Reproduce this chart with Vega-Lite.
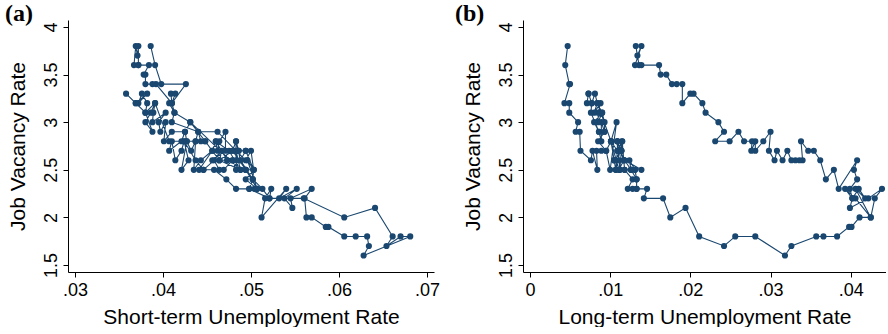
{
  "$schema": "https://vega.github.io/schema/vega-lite/v6.json",
  "padding": {"left": 5, "top": 2, "right": 0, "bottom": 0},
  "background": "white",
  "datasets": {
    "d": [
      {"t":1,"st":0.0386,"lt":0.0047,"v":3.8},{"t":2,"st":0.0391,"lt":0.0044,"v":3.6},{"t":3,"st":0.0398,"lt":0.0049,"v":3.4},{"t":4,"st":0.0426,"lt":0.0050,"v":3.4},
      {"t":5,"st":0.0410,"lt":0.0043,"v":3.2},{"t":6,"st":0.0407,"lt":0.0049,"v":3.2},{"t":7,"st":0.0413,"lt":0.0049,"v":3.1},{"t":8,"st":0.0410,"lt":0.0060,"v":3.0},
      {"t":9,"st":0.0440,"lt":0.0057,"v":2.9},{"t":10,"st":0.0462,"lt":0.0062,"v":2.9},{"t":11,"st":0.0483,"lt":0.0063,"v":2.7},{"t":12,"st":0.0494,"lt":0.0076,"v":2.6},
      {"t":13,"st":0.0500,"lt":0.0078,"v":2.7},{"t":14,"st":0.0503,"lt":0.0084,"v":2.5},{"t":15,"st":0.0494,"lt":0.0083,"v":2.7},{"t":16,"st":0.0486,"lt":0.0089,"v":2.7},
      {"t":17,"st":0.0483,"lt":0.0095,"v":2.7},{"t":18,"st":0.0488,"lt":0.0100,"v":2.5},{"t":19,"st":0.0431,"lt":0.0108,"v":3.0},{"t":20,"st":0.0448,"lt":0.0101,"v":2.8},
      {"t":21,"st":0.0464,"lt":0.0105,"v":2.6},{"t":22,"st":0.0488,"lt":0.0107,"v":2.5},{"t":23,"st":0.0475,"lt":0.0109,"v":2.7},{"t":24,"st":0.0460,"lt":0.0109,"v":2.8},
      {"t":25,"st":0.0473,"lt":0.0111,"v":2.6},{"t":26,"st":0.0494,"lt":0.0112,"v":2.5},{"t":27,"st":0.0479,"lt":0.0114,"v":2.7},{"t":28,"st":0.0483,"lt":0.0115,"v":2.8},
      {"t":29,"st":0.0488,"lt":0.0117,"v":2.6},{"t":30,"st":0.0494,"lt":0.0118,"v":2.5},{"t":31,"st":0.0502,"lt":0.0128,"v":2.4},{"t":32,"st":0.0498,"lt":0.0122,"v":2.3},
      {"t":33,"st":0.0504,"lt":0.0128,"v":2.3},{"t":34,"st":0.0507,"lt":0.0133,"v":2.3},{"t":35,"st":0.0494,"lt":0.0133,"v":2.4},{"t":36,"st":0.0503,"lt":0.0131,"v":2.5},
      {"t":37,"st":0.0483,"lt":0.0126,"v":2.5},{"t":38,"st":0.0479,"lt":0.0124,"v":2.6},{"t":39,"st":0.0469,"lt":0.0131,"v":2.5},{"t":40,"st":0.0464,"lt":0.0126,"v":2.5},
      {"t":41,"st":0.0458,"lt":0.0118,"v":2.6},{"t":42,"st":0.0446,"lt":0.0139,"v":2.5},{"t":43,"st":0.0441,"lt":0.0112,"v":2.5},{"t":44,"st":0.0456,"lt":0.0114,"v":2.7},
      {"t":45,"st":0.0443,"lt":0.0105,"v":2.6},{"t":46,"st":0.0435,"lt":0.0107,"v":2.5},{"t":47,"st":0.0437,"lt":0.0115,"v":2.8},{"t":48,"st":0.0432,"lt":0.0109,"v":2.7},
      {"t":49,"st":0.0427,"lt":0.0101,"v":2.8},{"t":50,"st":0.0421,"lt":0.0111,"v":2.5},{"t":51,"st":0.0429,"lt":0.0117,"v":2.6},{"t":52,"st":0.0424,"lt":0.0109,"v":2.8},
      {"t":53,"st":0.0421,"lt":0.0114,"v":2.7},{"t":54,"st":0.0414,"lt":0.0105,"v":2.6},{"t":55,"st":0.0410,"lt":0.0101,"v":2.8},{"t":56,"st":0.0407,"lt":0.0095,"v":2.7},
      {"t":57,"st":0.0421,"lt":0.0085,"v":2.8},{"t":58,"st":0.0425,"lt":0.0093,"v":2.9},{"t":59,"st":0.0410,"lt":0.0086,"v":2.9},{"t":60,"st":0.0401,"lt":0.0089,"v":2.8},
      {"t":61,"st":0.0403,"lt":0.0089,"v":3.0},{"t":62,"st":0.0397,"lt":0.0093,"v":2.9},{"t":63,"st":0.0395,"lt":0.0093,"v":3.0},{"t":64,"st":0.0403,"lt":0.0090,"v":3.1},
      {"t":65,"st":0.0388,"lt":0.0085,"v":3.0},{"t":66,"st":0.0389,"lt":0.0085,"v":3.1},{"t":67,"st":0.0391,"lt":0.0088,"v":3.2},{"t":68,"st":0.0380,"lt":0.0080,"v":3.1},
      {"t":69,"st":0.0382,"lt":0.0084,"v":3.2},{"t":70,"st":0.0376,"lt":0.0081,"v":3.3},{"t":71,"st":0.0372,"lt":0.0077,"v":3.2},{"t":72,"st":0.0382,"lt":0.0073,"v":3.3},
      {"t":73,"st":0.0369,"lt":0.0071,"v":3.2},{"t":74,"st":0.0358,"lt":0.0073,"v":3.3},{"t":75,"st":0.0369,"lt":0.0077,"v":3.2},{"t":76,"st":0.0380,"lt":0.0076,"v":3.1},
      {"t":77,"st":0.0388,"lt":0.0086,"v":2.9},{"t":78,"st":0.0380,"lt":0.0080,"v":3.0},{"t":79,"st":0.0386,"lt":0.0090,"v":3.1},{"t":80,"st":0.0391,"lt":0.0084,"v":3.2},
      {"t":81,"st":0.0407,"lt":0.0101,"v":2.8},{"t":82,"st":0.0424,"lt":0.0109,"v":2.8},{"t":83,"st":0.0437,"lt":0.0117,"v":2.6},{"t":84,"st":0.0446,"lt":0.0118,"v":2.5},
      {"t":85,"st":0.0458,"lt":0.0126,"v":2.5},{"t":86,"st":0.0472,"lt":0.0133,"v":2.4},{"t":87,"st":0.0483,"lt":0.0133,"v":2.3},{"t":88,"st":0.0498,"lt":0.0146,"v":2.3},
      {"t":89,"st":0.0521,"lt":0.0142,"v":2.2},{"t":90,"st":0.0560,"lt":0.0166,"v":2.2},{"t":91,"st":0.0606,"lt":0.0175,"v":2.0},{"t":92,"st":0.0641,"lt":0.0194,"v":2.1},
      {"t":93,"st":0.0661,"lt":0.0211,"v":1.8},{"t":94,"st":0.0654,"lt":0.0242,"v":1.7},{"t":95,"st":0.0670,"lt":0.0256,"v":1.8},{"t":96,"st":0.0681,"lt":0.0281,"v":1.8},
      {"t":97,"st":0.0628,"lt":0.0318,"v":1.6},{"t":98,"st":0.0634,"lt":0.0326,"v":1.7},{"t":99,"st":0.0632,"lt":0.0357,"v":1.8},{"t":100,"st":0.0619,"lt":0.0366,"v":1.8},
      {"t":101,"st":0.0606,"lt":0.0383,"v":1.8},{"t":102,"st":0.0588,"lt":0.0398,"v":1.9},{"t":103,"st":0.0585,"lt":0.0401,"v":1.9},{"t":104,"st":0.0569,"lt":0.0411,"v":2.0},
      {"t":105,"st":0.0563,"lt":0.0425,"v":2.0},{"t":106,"st":0.0561,"lt":0.0430,"v":2.2},{"t":107,"st":0.0569,"lt":0.0439,"v":2.3},{"t":108,"st":0.0545,"lt":0.0422,"v":2.2},
      {"t":109,"st":0.0547,"lt":0.0399,"v":2.1},{"t":110,"st":0.0538,"lt":0.0402,"v":2.2},{"t":111,"st":0.0552,"lt":0.0410,"v":2.3},{"t":112,"st":0.0532,"lt":0.0418,"v":2.2},
      {"t":113,"st":0.0540,"lt":0.0406,"v":2.3},{"t":114,"st":0.0512,"lt":0.0425,"v":2.0},{"t":115,"st":0.0516,"lt":0.0406,"v":2.2},{"t":116,"st":0.0523,"lt":0.0393,"v":2.3},
      {"t":117,"st":0.0521,"lt":0.0402,"v":2.2},{"t":118,"st":0.0513,"lt":0.0399,"v":2.3},{"t":119,"st":0.0502,"lt":0.0408,"v":2.4},{"t":120,"st":0.0503,"lt":0.0404,"v":2.5},
      {"t":121,"st":0.0496,"lt":0.0408,"v":2.6},{"t":122,"st":0.0507,"lt":0.0385,"v":2.3},{"t":123,"st":0.0494,"lt":0.0379,"v":2.5},{"t":124,"st":0.0502,"lt":0.0369,"v":2.4},
      {"t":125,"st":0.0488,"lt":0.0362,"v":2.6},{"t":126,"st":0.0494,"lt":0.0354,"v":2.7},{"t":127,"st":0.0486,"lt":0.0347,"v":2.7},{"t":128,"st":0.0483,"lt":0.0338,"v":2.8},
      {"t":129,"st":0.0483,"lt":0.0340,"v":2.6},{"t":130,"st":0.0479,"lt":0.0336,"v":2.6},{"t":131,"st":0.0473,"lt":0.0331,"v":2.6},{"t":132,"st":0.0464,"lt":0.0326,"v":2.6},
      {"t":133,"st":0.0479,"lt":0.0321,"v":2.7},{"t":134,"st":0.0464,"lt":0.0315,"v":2.6},{"t":135,"st":0.0467,"lt":0.0308,"v":2.7},{"t":136,"st":0.0456,"lt":0.0305,"v":2.6},
      {"t":137,"st":0.0471,"lt":0.0298,"v":2.7},{"t":138,"st":0.0471,"lt":0.0300,"v":2.9},{"t":139,"st":0.0464,"lt":0.0291,"v":2.8},{"t":140,"st":0.0462,"lt":0.0281,"v":2.7},
      {"t":141,"st":0.0460,"lt":0.0281,"v":2.8},{"t":142,"st":0.0456,"lt":0.0276,"v":2.7},{"t":143,"st":0.0448,"lt":0.0277,"v":2.8},{"t":144,"st":0.0443,"lt":0.0267,"v":2.8},
      {"t":145,"st":0.0440,"lt":0.0260,"v":2.9},{"t":146,"st":0.0437,"lt":0.0249,"v":2.8},{"t":147,"st":0.0427,"lt":0.0231,"v":2.8},{"t":148,"st":0.0425,"lt":0.0242,"v":2.9},
      {"t":149,"st":0.0431,"lt":0.0235,"v":3.0},{"t":150,"st":0.0413,"lt":0.0219,"v":3.1},{"t":151,"st":0.0410,"lt":0.0215,"v":3.2},{"t":152,"st":0.0409,"lt":0.0204,"v":3.3},
      {"t":153,"st":0.0414,"lt":0.0200,"v":3.3},{"t":154,"st":0.0410,"lt":0.0190,"v":3.2},{"t":155,"st":0.0392,"lt":0.0190,"v":3.4},{"t":156,"st":0.0388,"lt":0.0183,"v":3.4},
      {"t":157,"st":0.0380,"lt":0.0177,"v":3.4},{"t":158,"st":0.0380,"lt":0.0170,"v":3.5},{"t":159,"st":0.0378,"lt":0.0163,"v":3.5},{"t":160,"st":0.0384,"lt":0.0161,"v":3.6},
      {"t":161,"st":0.0372,"lt":0.0139,"v":3.6},{"t":162,"st":0.0367,"lt":0.0136,"v":3.6},{"t":163,"st":0.0369,"lt":0.0132,"v":3.8},{"t":164,"st":0.0371,"lt":0.0134,"v":3.7},
      {"t":165,"st":0.0372,"lt":0.0139,"v":3.8},{"t":166,"st":0.0372,"lt":0.0131,"v":3.6}
    ]
  },
  "spacing": 89,
  "bounds": "flush",
  "hconcat": [
    {
      "title": {"text": "(a)", "dx": -2},
      "width": 366,
      "height": 252,
      "data": {"name": "d"},
      "encoding": {
        "x": {"field": "st", "type": "quantitative", "title": "Short-term Unemployment Rate",
              "scale": {"domain": [0.0292, 0.0708], "nice": false, "zero": false},
              "axis": {"values": [0.03, 0.04, 0.05, 0.06, 0.07], "labelExpr": "substring(format(datum.value, '.2f'), 1)"}},
        "y": {"field": "v", "type": "quantitative", "title": "Job Vacancy Rate",
              "scale": {"domain": [1.4265, 4.0735], "nice": false, "zero": false},
              "axis": {"values": [1.5, 2, 2.5, 3, 3.5, 4], "labelExpr": "'' + datum.value"}}
      },
      "layer": [
        {"mark": {"type": "line", "color": "#1a476f", "strokeWidth": 1.1}, "encoding": {"order": {"field": "t", "type": "quantitative"}}},
        {"mark": {"type": "point", "filled": true, "color": "#1a476f", "size": 38, "opacity": 1}}
      ]
    },
    {
      "title": {"text": "(b)", "dx": -7},
      "width": 363,
      "height": 252,
      "data": {"name": "d"},
      "encoding": {
        "x": {"field": "lt", "type": "quantitative", "title": "Long-term Unemployment Rate",
              "scale": {"domain": [-0.00087, 0.0444], "nice": false, "zero": false},
              "axis": {"values": [0, 0.01, 0.02, 0.03, 0.04], "labelExpr": "datum.value == 0 ? '0' : substring(format(datum.value, '.2f'), 1)"}},
        "y": {"field": "v", "type": "quantitative", "title": "Job Vacancy Rate",
              "scale": {"domain": [1.4265, 4.0735], "nice": false, "zero": false},
              "axis": {"values": [1.5, 2, 2.5, 3, 3.5, 4], "labelExpr": "'' + datum.value"}}
      },
      "layer": [
        {"mark": {"type": "line", "color": "#1a476f", "strokeWidth": 1.1}, "encoding": {"order": {"field": "t", "type": "quantitative"}}},
        {"mark": {"type": "point", "filled": true, "color": "#1a476f", "size": 38, "opacity": 1}}
      ]
    }
  ],
  "config": {
    "view": {"stroke": null},
    "title": {"font": "Liberation Serif", "fontSize": 24, "fontWeight": "bold", "color": "#000", "anchor": "start", "frame": "bounds", "baseline": "alphabetic", "offset": -6},
    "axis": {"grid": false, "domainColor": "#000", "tickColor": "#000", "labelColor": "#000", "titleColor": "#000",
             "labelFont": "Liberation Sans", "titleFont": "Liberation Sans", "labelFontSize": 18, "titleFontSize": 21,
             "titleFontWeight": "normal", "tickSize": 5, "domainWidth": 1, "tickWidth": 1, "labelFlush": false, "labelOverlap": false},
    "axisY": {"labelAngle": -90, "labelAlign": "center", "labelBaseline": "bottom", "labelPadding": 3, "titlePadding": 14},
    "axisX": {"labelPadding": 4, "titlePadding": 7}
  }
}
